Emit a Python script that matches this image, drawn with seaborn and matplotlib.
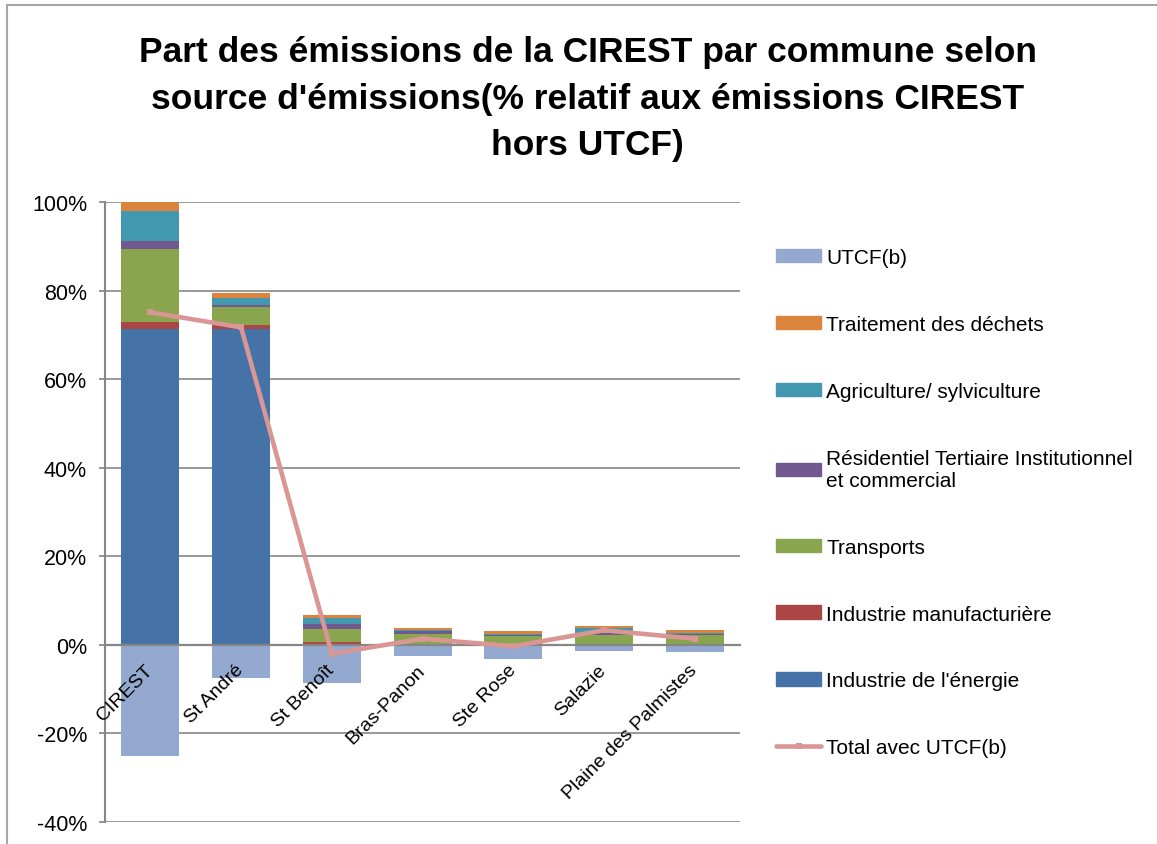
import numpy as np
import pandas as pd
import seaborn as sns
import matplotlib.pyplot as plt
from matplotlib.patches import Patch, Rectangle
from matplotlib.lines import Line2D
from matplotlib.ticker import PercentFormatter

# data (% of CIREST emissions without UTCF)
communes = ["CIREST", "St André", "St Benoît", "Bras-Panon", "Ste Rose",
            "Salazie", "Plaine des Palmistes"]
energie = [71.3, 71.3, 0.0, 0.0, 0.0, 0.0, 0.0]
manufacturiere = [1.6, 0.9, 0.7, 0.1, 0.1, 0.1, 0.1]
transports = [16.5, 4.0, 2.9, 2.3, 2.0, 2.1, 2.1]
residentiel = [1.8, 0.5, 1.1, 0.7, 0.2, 0.5, 0.3]
agriculture = [6.7, 1.6, 1.3, 0.2, 0.2, 1.1, 0.2]
dechets = [2.1, 1.1, 0.7, 0.5, 0.7, 0.5, 0.7]
utcf = [-25.0, -7.4, -8.5, -2.5, -3.1, -1.4, -1.5]
total_utcf = [75.1, 71.7, -2.0, 1.4, -0.3, 3.3, 1.4]

series = [
    ("Industrie de l'énergie", energie, "#4572A7"),
    ("Industrie manufacturière", manufacturiere, "#AA4643"),
    ("Transports", transports, "#89A54E"),
    ("Résidentiel Tertiaire Institutionnel\net commercial", residentiel, "#71588F"),
    ("Agriculture/ sylviculture", agriculture, "#4198AF"),
    ("Traitement des déchets", dechets, "#DB843D"),
]
utcf_color = "#93A9CF"
line_color = "#D99694"
grid_color = "#868686"

sns.set_theme(style="white")
plt.rcParams['font.family'] = ['Liberation Sans', 'DejaVu Sans']
plt.rcParams['axes.unicode_minus'] = False
plt.rcParams['text.color'] = 'black'

fig = plt.figure(figsize=(11.57, 8.45), dpi=100)
ax = fig.add_axes([0.0908, 0.026, 0.5488, 0.7337])

df = pd.DataFrame({"commune": communes})
bottom = np.zeros(len(communes))
for name, vals, col in series:
    sns.barplot(x=df["commune"], y=vals, bottom=bottom, color=col, width=0.64,
                saturation=1, linewidth=0, errorbar=None, ax=ax)
    bottom = bottom + np.array(vals)

sns.barplot(x=df["commune"], y=utcf, color=utcf_color, width=0.64,
            saturation=1, linewidth=0, errorbar=None, ax=ax)

sns.lineplot(x=np.arange(len(communes)), y=total_utcf, color=line_color,
             linewidth=3.3, marker="s", markersize=4, markeredgewidth=0,
             ax=ax, zorder=3)

ax.set_xlim(-0.5, 6.5)
ax.set_ylim(-40, 100)
ax.set_yticks(np.arange(-40, 101, 20))
ax.yaxis.set_major_formatter(PercentFormatter(decimals=0))
ax.set_xlabel("")
ax.set_ylabel("")

ax.set_axisbelow(True)
ax.yaxis.grid(True, color=grid_color, linewidth=1.2)
ax.xaxis.set_zorder(4)  # category labels drawn over the bars
for s in ["top", "right"]:
    ax.spines[s].set_visible(False)
ax.spines["left"].set_color(grid_color)
ax.spines["left"].set_linewidth(1.5)
ax.spines["bottom"].set_position(("data", 0))
ax.spines["bottom"].set_color(grid_color)
ax.spines["bottom"].set_linewidth(1.6)

ax.tick_params(axis="y", left=True, length=4, color=grid_color, pad=9,
               labelsize=15.5, labelcolor="black")
ax.tick_params(axis="x", bottom=False, length=0, pad=16, labelsize=14,
               labelcolor="black")
for lab in ax.get_xticklabels():
    lab.set_rotation(45)
    lab.set_ha("right")
    lab.set_va("center")
    lab.set_rotation_mode("anchor")

fig.text(0.508, 0.957,
         "Part des émissions de la CIREST par commune selon\n"
         "source d'émissions(% relatif aux émissions CIREST\n"
         "hors UTCF)",
         ha="center", va="top", fontsize=25.5, fontweight="bold",
         linespacing=1.52, color="black")

# legend in the same order as the original
handles = [Patch(color=utcf_color, label="UTCF(b)")]
for name, vals, col in reversed(series):
    handles.append(Patch(color=col, label=name))
handles.append(Line2D([0], [0], color=line_color, linewidth=3.3, marker="s",
                      markersize=4, markeredgewidth=0, label="Total avec UTCF(b)"))
leg = fig.legend(handles=handles, loc="upper left",
                 bbox_to_anchor=(776 / 1157, 1 - 249 / 845), frameon=False,
                 fontsize=15, handlelength=2.16, handleheight=0.63,
                 handletextpad=0.25, labelspacing=2.3, borderpad=0,
                 borderaxespad=0)
for t in leg.get_texts():
    t.set_color("black")

# thin chart border (top and left visible in the original)
fig.patches.append(Rectangle((7 / 1157, -0.1), 1.2, 1 - 6 / 845 + 0.1,
                             transform=fig.transFigure, fill=False,
                             edgecolor="#A6A6A6", linewidth=1.5))

fig.savefig("out.png", dpi=100)
